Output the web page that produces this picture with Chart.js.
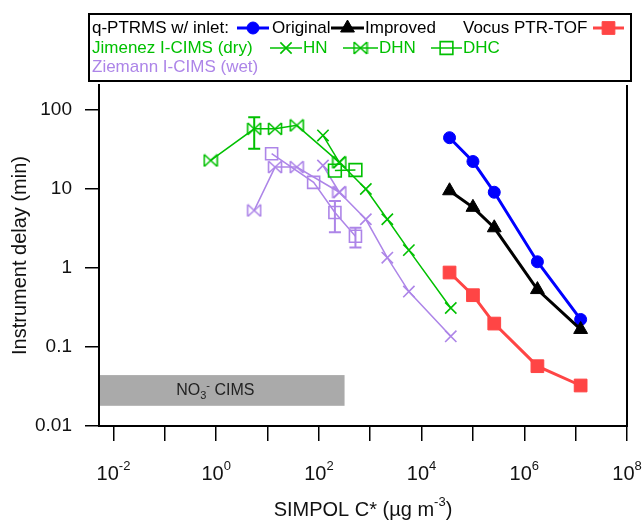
<!DOCTYPE html>
<html>
<head>
<meta charset="utf-8">
<script src="https://cdn.jsdelivr.net/npm/chart.js@4.4.3/dist/chart.umd.min.js"></script>
<style>
  html, body { margin: 0; padding: 0; background: #fff; }
  #wrap { width: 643px; height: 521px; position: relative; }
</style>
</head>
<body>
<div id="wrap"><canvas id="c" width="643" height="521"></canvas></div>
<script>
// q-PTRMS / Vocus points (same C* for all three)
const qX = [3.5e4, 1.0e5, 2.6e5, 1.8e6, 1.25e7];
const originalY = [44, 22, 9.0, 1.19, 0.222];
const improvedY = [9.4, 5.8, 3.2, 0.53, 0.166];
const vocusY = [0.87, 0.45, 0.197, 0.057, 0.0325];

// I-CIMS, HN series
const hnX = [120, 250, 820, 2150, 5650, 37000];
const jimenezHnY = [47, 21.5, 9.9, 4.1, 1.67, 0.31];
const ziemannHnY = [19.6, 9.0, 4.1, 1.34, 0.50, 0.136];

// I-CIMS, DHN series
const dhnX = [0.78, 5.5, 14, 37, 250];
const jimenezDhnY = [22.7, 57, 57, 63, 21.5];
const jimenezDhnErrLo = [null, 32, null, null, null];
const jimenezDhnErrHi = [null, 80, null, null, null];
const ziemannDhnX = [5.5, 14, 37, 250];
const ziemannDhnY = [5.3, 18.7, 18.7, 9.0];

// I-CIMS, DHC series
const dhcX = [12, 79, 205, 515];
const ziemannDhcY = [27.6, 12.0, 5.0, 2.5];
const ziemannDhcErrLo = [null, null, 2.8, 1.8];
const ziemannDhcErrHi = [null, null, 7.0, 3.2];
const jimenezDhcX = [205, 515];
const jimenezDhcY = [16.9, 17.2];

// NO3- CIMS range band
const no3XMax = 316;
const no3YRange = [0.018, 0.044];

// axes
const yTicks = [0.01, 0.1, 1, 10, 100];
const yTickLabels = ['0.01', '0.1', '1', '10', '100'];
const xTickExps = [-2, -1, 0, 1, 2, 3, 4, 5, 6, 7, 8];
const xLabelExps = [-2, 0, 2, 4, 6, 8];

const BLUE = '#0000ff', BLACK = '#000000', RED = '#ff4545';
const GREEN = '#00c000', PURPLE = '#ad85e8', BAND = '#aaaaaa';
const FONT = '"Liberation Sans", Arial, sans-serif';

function pts(xs, ys) { return xs.map((x, i) => ({ x: x, y: ys[i] })); }

function bowtie(color) {
  const c = document.createElement('canvas');
  c.width = 16; c.height = 14;
  const g = c.getContext('2d');
  g.strokeStyle = color; g.lineWidth = 1.6;
  g.beginPath();
  g.moveTo(1.5, 1); g.lineTo(1.5, 13);
  g.moveTo(14.5, 1); g.lineTo(14.5, 13);
  g.moveTo(1.5, 1); g.lineTo(14.5, 13);
  g.moveTo(1.5, 13); g.lineTo(14.5, 1);
  g.stroke();
  return c;
}

function style(color, width, shape, radius, filled) {
  return {
    borderColor: color, borderWidth: width, showLine: true, tension: 0,
    pointStyle: shape, pointRadius: radius, pointHoverRadius: radius,
    pointBorderColor: color, pointBorderWidth: filled ? 1 : 1.6,
    pointBackgroundColor: filled ? color : 'rgba(0,0,0,0)'
  };
}

const dsImproved = Object.assign({ label: 'Improved', data: pts(qX, improvedY) }, style(BLACK, 3, 'triangle', 8, true));
const dsOriginal = Object.assign({ label: 'Original', data: pts(qX, originalY) }, style(BLUE, 3, 'circle', 6, true));
const dsVocus = Object.assign({ label: 'Vocus PTR-TOF', data: pts(qX, vocusY) }, style(RED, 3, 'rect', 9, true));
const dsJimHn = Object.assign({ label: 'HN', data: pts(hnX, jimenezHnY) }, style(GREEN, 1.5, 'crossRot', 8, false));
const dsJimDhn = Object.assign({ label: 'DHN', data: pts(dhnX, jimenezDhnY) }, style(GREEN, 1.5, bowtie(GREEN), 7, false));
const dsJimDhc = Object.assign({ label: 'DHC', data: pts(jimenezDhcX, jimenezDhcY) }, style(GREEN, 1.5, 'rect', 9, false));
const dsZieHn = Object.assign({ label: 'Ziemann HN', data: pts(hnX, ziemannHnY) }, style(PURPLE, 1.5, 'crossRot', 8, false));
const dsZieDhn = Object.assign({ label: 'Ziemann DHN', data: pts(ziemannDhnX, ziemannDhnY) }, style(PURPLE, 1.5, bowtie(PURPLE), 7, false));
const dsZieDhc = Object.assign({ label: 'Ziemann DHC', data: pts(dhcX, ziemannDhcY) }, style(PURPLE, 1.5, 'rect', 8.5, false));

const errorBars = [
  { xs: dhnX, lo: jimenezDhnErrLo, hi: jimenezDhnErrHi, color: GREEN },
  { xs: dhcX, lo: ziemannDhcErrLo, hi: ziemannDhcErrHi, color: PURPLE }
];

function drawMarker(ctx, ds, x, y) {
  ctx.save();
  ctx.fillStyle = ds.pointBackgroundColor;
  ctx.strokeStyle = ds.pointBorderColor;
  ctx.lineWidth = ds.pointBorderWidth;
  Chart.helpers.drawPoint(ctx, { pointStyle: ds.pointStyle, radius: ds.pointRadius, borderWidth: ds.pointBorderWidth, rotation: 0 }, x, y);
  ctx.restore();
}

function sample(ctx, ds, x1, x2, y) {
  ctx.save();
  ctx.strokeStyle = ds.borderColor;
  ctx.lineWidth = ds.borderWidth;
  ctx.beginPath(); ctx.moveTo(x1, y); ctx.lineTo(x2, y); ctx.stroke();
  ctx.restore();
  drawMarker(ctx, ds, (x1 + x2) / 2, y);
}

const bandPlugin = {
  id: 'band',
  beforeDatasetsDraw(chart) {
    const { ctx, chartArea, scales: { x, y } } = chart;
    const x0 = chartArea.left + 1, x1 = x.getPixelForValue(no3XMax);
    const yTop = y.getPixelForValue(no3YRange[1]), yBot = y.getPixelForValue(no3YRange[0]);
    ctx.save();
    ctx.fillStyle = BAND;
    ctx.fillRect(x0, yTop, x1 - x0, yBot - yTop);
    // NO3- CIMS label
    const cy = (yTop + yBot) / 2;
    const parts = [['NO', 16, 0], ['3', 11, 4], ['-', 11, -6], [' CIMS', 16, 0]];
    let w = 0;
    parts.forEach(p => { ctx.font = p[1] + 'px ' + FONT; w += ctx.measureText(p[0]).width; });
    let cx = (x0 + x1) / 2 - 7 - w / 2;
    ctx.fillStyle = '#222';
    ctx.textBaseline = 'alphabetic';
    parts.forEach(p => {
      ctx.font = p[1] + 'px ' + FONT;
      ctx.fillText(p[0], cx, cy + 5 + p[2]);
      cx += ctx.measureText(p[0]).width;
    });
    ctx.restore();
  }
};

const errPlugin = {
  id: 'errbars',
  afterDatasetsDraw(chart) {
    const { ctx, scales: { x, y } } = chart;
    ctx.save();
    errorBars.forEach(eb => {
      ctx.strokeStyle = eb.color;
      ctx.lineWidth = 2;
      eb.xs.forEach((xv, i) => {
        if (eb.lo[i] == null) return;
        const px = x.getPixelForValue(xv);
        const p1 = y.getPixelForValue(eb.lo[i]), p2 = y.getPixelForValue(eb.hi[i]);
        ctx.beginPath();
        ctx.moveTo(px, p1); ctx.lineTo(px, p2);
        ctx.moveTo(px - 6, p1); ctx.lineTo(px + 6, p1);
        ctx.moveTo(px - 6, p2); ctx.lineTo(px + 6, p2);
        ctx.stroke();
      });
    });
    ctx.restore();
  }
};

const decorPlugin = {
  id: 'decor',
  afterDraw(chart) {
    const { ctx, chartArea, scales: { x } } = chart;
    ctx.save();
    // right axis line
    ctx.strokeStyle = '#000'; ctx.lineWidth = 2;
    ctx.beginPath(); ctx.moveTo(chartArea.right, chartArea.top); ctx.lineTo(chartArea.right, chartArea.bottom + 1); ctx.stroke();

    // x tick labels with superscripts
    ctx.fillStyle = '#111';
    ctx.textBaseline = 'alphabetic';
    xLabelExps.forEach(e => {
      const px = x.getPixelForValue(Math.pow(10, e));
      const ex = String(e);
      ctx.font = '20px ' + FONT; const wb = ctx.measureText('10').width;
      ctx.font = '13px ' + FONT; const we = ctx.measureText(ex).width;
      const sx = px - (wb + we) / 2;
      ctx.font = '20px ' + FONT; ctx.fillText('10', sx, 480);
      ctx.font = '13px ' + FONT; ctx.fillText(ex, sx + wb, 470);
    });

    // x title
    const parts = [['SIMPOL C* (\u00b5g m', 20, 0], ['-3', 13, -10], [')', 20, 0]];
    let w = 0;
    parts.forEach(p => { ctx.font = p[1] + 'px ' + FONT; w += ctx.measureText(p[0]).width; });
    let cx = (chartArea.left + chartArea.right) / 2 - w / 2;
    parts.forEach(p => {
      ctx.font = p[1] + 'px ' + FONT;
      ctx.fillText(p[0], cx, 516 + p[2]);
      cx += ctx.measureText(p[0]).width;
    });

    // legend box
    ctx.lineWidth = 2; ctx.strokeStyle = '#000';
    ctx.strokeRect(89, 14, 542, 67);
    ctx.font = '17px ' + FONT;
    ctx.textBaseline = 'middle';
    const r1 = 28, r2 = 48, r3 = 67.5;
    ctx.fillStyle = '#000';
    ctx.fillText('q-PTRMS w/ inlet:', 92, r1);
    sample(ctx, dsOriginal, 237, 269, r1);
    ctx.fillStyle = '#000'; ctx.fillText('Original', 272, r1);
    sample(ctx, dsImproved, 331, 364, r1);
    ctx.fillStyle = '#000'; ctx.fillText('Improved', 365, r1);
    ctx.fillText('Vocus PTR-TOF', 463, r1);
    sample(ctx, dsVocus, 593, 624, r1);

    ctx.fillStyle = GREEN;
    ctx.fillText('Jimenez I-CIMS (dry)', 92, r2);
    sample(ctx, dsJimHn, 270, 302, r2);
    ctx.fillStyle = GREEN; ctx.fillText('HN', 303, r2);
    sample(ctx, dsJimDhn, 343, 378, r2);
    ctx.fillStyle = GREEN; ctx.fillText('DHN', 379, r2);
    sample(ctx, dsJimDhc, 431, 462, r2);
    ctx.fillStyle = GREEN; ctx.fillText('DHC', 463, r2);

    ctx.fillStyle = PURPLE;
    ctx.fillText('Ziemann I-CIMS (wet)', 92, r3);
    ctx.restore();
  }
};

new Chart(document.getElementById('c'), {
  type: 'scatter',
  data: {
    datasets: [dsImproved, dsOriginal, dsVocus, dsJimHn, dsJimDhn, dsJimDhc, dsZieHn, dsZieDhn, dsZieDhc]
  },
  options: {
    responsive: false,
    animation: false,
    devicePixelRatio: 1,
    layout: { padding: { top: 85, right: 16, bottom: 0, left: 0 } },
    plugins: { legend: { display: false }, tooltip: { enabled: false } },
    scales: {
      x: {
        type: 'logarithmic',
        position: 'bottom',
        min: 0.00522,
        max: 1.0e8,
        bounds: 'data',
        afterBuildTicks: s => { s.ticks = xTickExps.map(e => ({ value: Math.pow(10, e) })); },
        afterFit: s => { s.height = 95; },
        ticks: { callback: () => '', autoSkip: false, maxRotation: 0 },
        grid: { drawOnChartArea: false, drawTicks: true, tickLength: 15, color: '#000', lineWidth: 1.5 },
        border: { display: true, color: '#000', width: 2 }
      },
      y: {
        type: 'logarithmic',
        position: 'left',
        min: 0.01,
        max: 204,
        bounds: 'data',
        afterBuildTicks: s => { s.ticks = yTicks.map(v => ({ value: v })); },
        afterFit: s => { s.width = 99; },
        ticks: {
          autoSkip: false,
          padding: 13,
          color: '#111',
          font: { family: FONT, size: 19 },
          callback: v => { const i = yTicks.indexOf(v); return i >= 0 ? yTickLabels[i] : ''; }
        },
        grid: { drawOnChartArea: false, drawTicks: true, tickLength: 14, color: '#000', lineWidth: 1.5 },
        border: { display: true, color: '#000', width: 2 },
        title: {
          display: true,
          text: 'Instrument delay (min)',
          color: '#111',
          font: { family: FONT, size: 20 },
          padding: { top: 8, bottom: 0 }
        }
      }
    }
  },
  plugins: [bandPlugin, errPlugin, decorPlugin]
});
</script>
</body>
</html>
